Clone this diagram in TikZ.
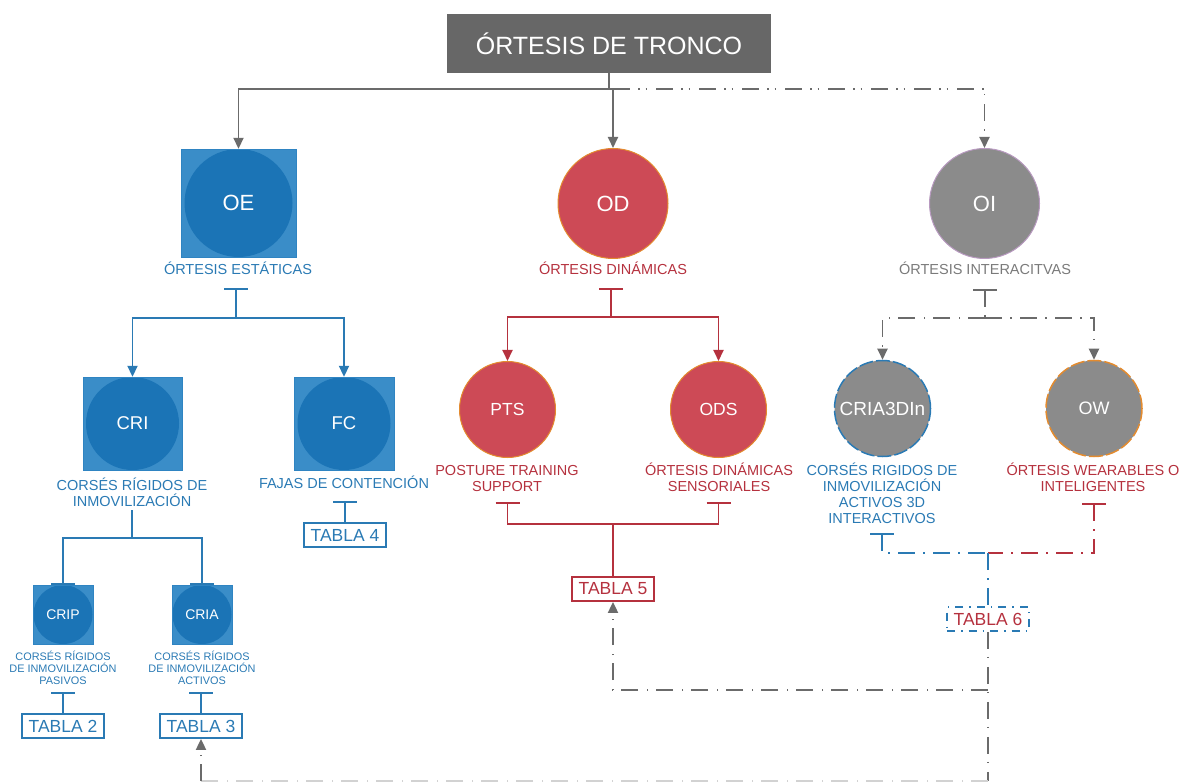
\documentclass[tikz,border=0pt]{standalone}
\usepackage{fontspec}
\setmainfont{Liberation Sans}
\usetikzlibrary{arrows.meta}

\definecolor{troncog}{HTML}{676767}
\definecolor{lineg}{HTML}{6B6B6B}
\definecolor{faintg}{HTML}{D2D2D2}
\definecolor{bluetx}{HTML}{2A7AB4}
\definecolor{bluesq}{HTML}{3A8DC8}
\definecolor{bluesqd}{HTML}{2F84C2}
\definecolor{bluecirc}{HTML}{1B74B6}
\definecolor{redfill}{HTML}{CD4A56}
\definecolor{redtx}{HTML}{B5313E}
\definecolor{orangeb}{HTML}{E38B2F}
\definecolor{grayfill}{HTML}{8B8B8B}
\definecolor{purpleb}{HTML}{B89AC0}
\definecolor{graytx}{HTML}{7A7A7A}

\begin{document}
\begin{tikzpicture}[x=1pt,y=-1pt,>={Triangle[length=11pt,width=10pt]},
    title/.style={rectangle,fill=troncog,text=white,minimum width=324pt,minimum height=59pt,
        font=\fontsize{25}{28}\selectfont},
    estsq/.style 2 args={rectangle,draw=bluesqd,fill=bluesq,minimum width=#1,minimum height=#2,
        inner sep=0pt,text=white,
        path picture={\fill[bluecirc] (path picture bounding box.center) circle[radius=#2/2];}},
    dynci/.style={circle,draw=orangeb,fill=redfill,line width=1pt,text=white,inner sep=0pt},
    intci/.style={circle,fill=grayfill,text=white,inner sep=0pt},
    lbl/.style={font=\fontsize{14.5}{16}\selectfont,align=center,anchor=base,inner sep=0pt},
    slbl/.style={font=\fontsize{10.9}{12}\selectfont,align=center,anchor=base,inner sep=0pt},
    tabla/.style={rectangle,draw,line width=1.8pt,minimum width=82pt,minimum height=24pt,
        inner sep=0pt,font=\fontsize{17.5}{20}\selectfont},
    gline/.style={draw=lineg,line width=1.9pt},
    bline/.style={draw=bluetx,line width=1.9pt},
    rline/.style={draw=redtx,line width=1.9pt},
    dashdot/.style={dash pattern=on 17pt off 8pt on 1.5pt off 8.5pt},
    dashdotdot/.style={dash pattern=on 17pt off 8pt on 1.5pt off 6pt on 1.5pt off 9pt},
    tee/.style={{Bar[width=24pt]}-},
    teeend/.style={-{Bar[width=24pt]}}]
\useasboundingbox (0,0) rectangle (1188,783);

% raiz
\node[title] (title) at (609,43.5) {ÓRTESIS DE TRONCO};
\coordinate (top-j) at (613,89);

% nivel 1
\node[estsq={115pt}{108pt},font=\fontsize{22}{24}\selectfont] (oe) at (238.5,203) {OE};
\node[dynci,minimum size=110pt,font=\fontsize{22}{24}\selectfont] (od) at (613,203.5) {OD};
\node[intci,draw=purpleb,line width=1pt,minimum size=110pt,font=\fontsize{22}{24}\selectfont] (oi) at (984.5,203.5) {OI};

\node[lbl,text=bluetx] (oe-t) at (238,275) {ÓRTESIS ESTÁTICAS};
\node[lbl,text=redtx] (od-t) at (613,275) {ÓRTESIS DINÁMICAS};
\node[lbl,text=graytx] (oi-t) at (985,275) {ÓRTESIS INTERACITVAS};

\draw[gline] (title.south) -- (title.south |- top-j);
\draw[gline,->] (top-j) -| (oe.north);
\draw[gline,->] (top-j) -- (od.north);
\draw[gline,dashdotdot,->] (top-j) -| (oi.north);

% estaticas
\node[estsq={99pt}{93pt},font=\fontsize{18.5}{20}\selectfont] (cri) at (132.5,423.5) {CRI};
\node[estsq={100pt}{93pt},font=\fontsize{18.5}{20}\selectfont] (fc) at (344,423.5) {FC};
\node[lbl,text=bluetx] (cri-t) at (132,506) {CORSÉS RÍGIDOS DE\\INMOVILIZACIÓN};
\node[lbl,text=bluetx] (fc-t) at (344,488) {FAJAS DE CONTENCIÓN};

\coordinate (oe-b) at (236,288);
\coordinate (oe-j) at (236,318);
\draw[bline,tee] (oe-b) -- (oe-j);
\draw[bline,->] (oe-j) -| (cri.north);
\draw[bline,->] (oe-j) -| (fc.north);

\node[estsq={60pt}{59pt},font=\fontsize{14}{16}\selectfont] (crip) at (63,614.5) {CRIP};
\node[estsq={60pt}{59pt},font=\fontsize{14}{16}\selectfont] (cria) at (202,614.5) {CRIA};
\node[slbl,text=bluetx] (crip-t) at (63,684) {CORSÉS RÍGIDOS\\DE INMOVILIZACIÓN\\PASIVOS};
\node[slbl,text=bluetx] (cria-t) at (202,684) {CORSÉS RÍGIDOS\\DE INMOVILIZACIÓN\\ACTIVOS};

\coordinate (cri-b) at (132,510);
\coordinate (cri-j) at (132,538);
\draw[bline] (cri-b) -- (cri-j);
\draw[bline,teeend] (cri-j) -| (crip.north);
\draw[bline,teeend] (cri-j) -| (cria.north);

\node[tabla,draw=bluetx,text=bluetx] (t2) at (63,726) {TABLA 2};
\node[tabla,draw=bluetx,text=bluetx] (t3) at (201,726) {TABLA 3};
\node[tabla,draw=bluetx,text=bluetx] (t4) at (345,535) {TABLA 4};
\coordinate (crip-b) at (63,692);
\coordinate (cria-b) at (201,692);
\coordinate (fc-b) at (345,501);
\draw[bline,tee] (crip-b) -- (t2.north);
\draw[bline,tee] (cria-b) -- (t3.north);
\draw[bline,tee] (fc-b) -- (t4.north);

% dinamicas
\node[dynci,minimum size=96pt,font=\fontsize{17.5}{20}\selectfont] (pts) at (507.5,409.5) {PTS};
\node[dynci,minimum size=96pt,font=\fontsize{17.5}{20}\selectfont] (ods) at (718.5,409.5) {ODS};
\node[lbl,text=redtx] (pts-t) at (507,491) {POSTURE TRAINING\\SUPPORT};
\node[lbl,text=redtx] (ods-t) at (719,491) {ÓRTESIS DINÁMICAS\\SENSORIALES};

\coordinate (od-b) at (611,288);
\coordinate (od-j) at (611,317);
\draw[rline,tee] (od-b) -- (od-j);
\draw[rline,->] (od-j) -| (pts.north);
\draw[rline,->] (od-j) -| (ods.north);

\node[tabla,draw=redtx,text=redtx] (t5) at (613,589) {TABLA 5};
\coordinate (pts-b) at (507.5,502);
\coordinate (ods-b) at (718.5,502);
\coordinate (od-m) at (613,524);
\draw[rline,tee] (pts-b) |- (od-m);
\draw[rline,tee] (ods-b) |- (od-m);
\draw[rline] (od-m) -- (t5.north);

% interactivas
\node[intci,draw=bluetx,line width=1.5pt,dash pattern=on 14pt off 3pt,minimum size=96pt,
    font=\fontsize{19}{20}\selectfont] (c3d) at (882.5,408.5) {CRIA3DIn};
\node[intci,draw=orangeb,line width=1.5pt,dash pattern=on 14pt off 3pt,minimum size=96pt,
    font=\fontsize{18}{20}\selectfont] (ow) at (1094,408.5) {OW};
\node[lbl,text=bluetx] (c3d-t) at (882,523) {CORSÉS RIGIDOS DE\\INMOVILIZACIÓN\\ACTIVOS 3D\\INTERACTIVOS};
\node[lbl,text=redtx] (ow-t) at (1093,491) {ÓRTESIS WEARABLES O\\INTELIGENTES};

\coordinate (oi-b) at (985,289);
\coordinate (oi-j) at (985,318);
\draw[gline,dashdot,tee] (oi-b) -- (oi-j);
\draw[gline,dashdot,->] (oi-j) -| (c3d.north);
\draw[gline,dashdot,->] (oi-j) -| (ow.north);

\node[tabla,draw=bluetx,dash pattern=on 8pt off 6pt on 1.5pt off 6pt,text=redtx] (t6) at (988,619) {TABLA 6};
\coordinate (c3d-b) at (882,533);
\coordinate (ow-b) at (1094,503);
\coordinate (oi-m) at (988,553);
\draw[bline,dashdot,tee] (c3d-b) |- (oi-m);
\draw[rline,dashdot,tee] (ow-b) |- (oi-m);
\draw[bline,dashdot] (oi-m) -- (t6.north);

% retorno a tablas
\coordinate (t5-j) at (988,690);
\coordinate (t3-j) at (988,781);
\draw[gline,dashdot] (t6.south) -- (t3-j);
\draw[gline,dashdot,->] (t5-j) -| (t5.south);
\draw[draw=faintg,line width=1.6pt,dashdot] (t3-j) -- (t3-j -| t3.south);
\draw[gline,dashdot,->] (t3-j -| t3.south) -- (t3.south);
\end{tikzpicture}
\end{document}
